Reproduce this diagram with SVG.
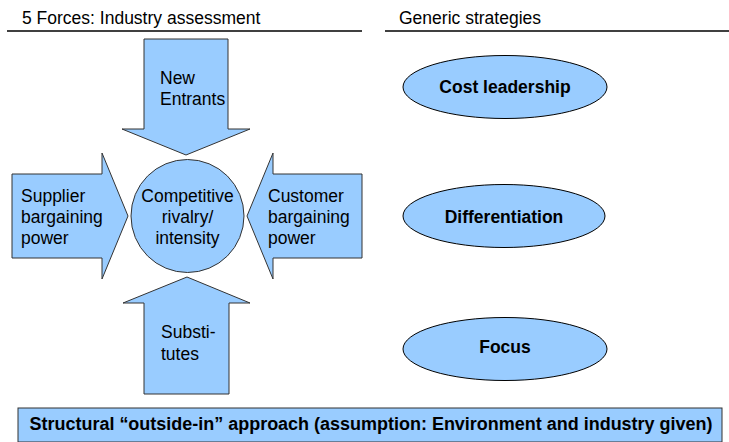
<svg xmlns="http://www.w3.org/2000/svg" width="729" height="442" viewBox="0 0 729 442">
  <style>
    .bg { fill: #ffffff; }
    .rule { stroke: #000000; stroke-width: 1.6; }
    .head { font-family: "Liberation Sans", Arial, sans-serif; font-size: 17.5px; fill: #000000; }
    .shape { fill: #99ccff; stroke: #333333; stroke-width: 1; }
    .oval { fill: #99ccff; stroke: #000000; stroke-width: 1; }
    .lbl { font-family: "Liberation Sans", Arial, sans-serif; font-size: 17.5px; fill: #000000; }
    .mid { text-anchor: middle; }
    .bold { font-family: "Liberation Sans", Arial, sans-serif; font-weight: bold; font-size: 17.5px; fill: #000000; text-anchor: middle; }
  </style>

  <rect class="bg" x="0" y="0" width="729" height="442"/>

  <!-- section headings -->
  <g id="headings">
    <text class="head" x="22" y="24">5 Forces: Industry assessment</text>
    <line class="rule" x1="7" y1="31" x2="362" y2="31"/>
    <text class="head" x="399" y="24">Generic strategies</text>
    <line class="rule" x1="385" y1="31" x2="729" y2="31"/>
  </g>

  <!-- five forces -->
  <g id="new-entrants">
    <polygon class="shape" points="144,39 228,39 228,129 250,129 186,155 122,129 144,129"/>
    <text class="lbl" x="160" y="84">New</text>
    <text class="lbl" x="160" y="105">Entrants</text>
  </g>

  <g id="supplier">
    <polygon class="shape" points="12,174 102,174 102,153 128,216 102,279 102,258 12,258"/>
    <text class="lbl" x="21" y="202">Supplier</text>
    <text class="lbl" x="21" y="223">bargaining</text>
    <text class="lbl" x="21" y="244">power</text>
  </g>

  <g id="customer">
    <polygon class="shape" points="362,174 273,174 273,153 247,216 273,279 273,258 362,258"/>
    <text class="lbl" x="268" y="202">Customer</text>
    <text class="lbl" x="268" y="223">bargaining</text>
    <text class="lbl" x="268" y="244">power</text>
  </g>

  <g id="substitutes">
    <polygon class="shape" points="144,394 229,394 229,303 250,303 187,277 123,303 144,303"/>
    <text class="lbl" x="161" y="338">Substi-</text>
    <text class="lbl" x="161" y="360">tutes</text>
  </g>

  <g id="rivalry">
    <circle class="shape" cx="187.5" cy="216" r="56.5"/>
    <text class="lbl mid" x="187.5" y="202">Competitive</text>
    <text class="lbl mid" x="187.5" y="223">rivalry/</text>
    <text class="lbl mid" x="187.5" y="244">intensity</text>
  </g>

  <!-- generic strategies -->
  <g id="cost-leadership">
    <ellipse class="oval" cx="505" cy="87" rx="102" ry="31.5"/>
    <text class="bold" x="505" y="93">Cost leadership</text>
  </g>

  <g id="differentiation">
    <ellipse class="oval" cx="504" cy="216" rx="101" ry="31.5"/>
    <text class="bold" x="504" y="223">Differentiation</text>
  </g>

  <g id="focus">
    <ellipse class="oval" cx="505" cy="349" rx="102" ry="31.5"/>
    <text class="bold" x="505" y="353">Focus</text>
  </g>

  <!-- approach banner -->
  <g id="approach">
    <rect class="shape" x="18" y="408" width="704" height="34" stroke="#555555"/>
    <text class="bold" x="371" y="430" font-size="18" textLength="683" lengthAdjust="spacingAndGlyphs">Structural “outside-in” approach (assumption: Environment and industry given)</text>
  </g>

  <g id="connectors"></g>
</svg>
